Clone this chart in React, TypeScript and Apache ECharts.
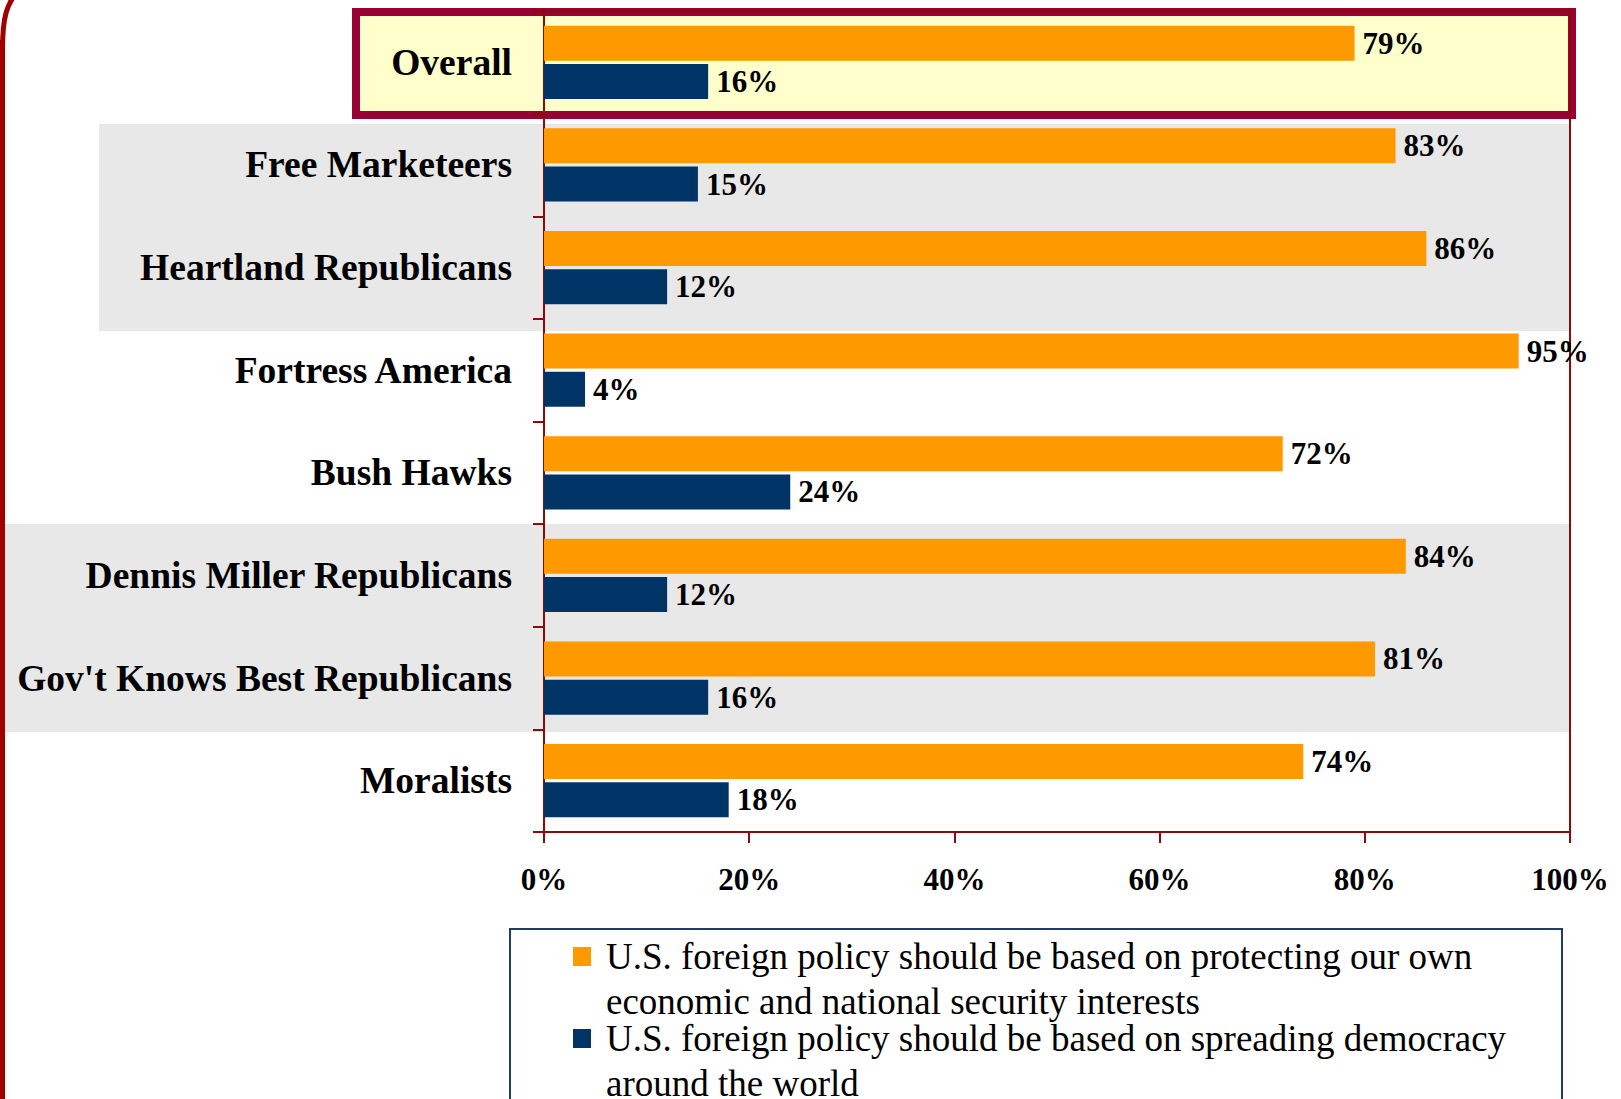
import React, { useEffect, useRef } from "react";
import * as echarts from "echarts";

const categories = [
  "Overall",
  "Free Marketeers",
  "Heartland Republicans",
  "Fortress America",
  "Bush Hawks",
  "Dennis Miller Republicans",
  "Gov't Knows Best Republicans",
  "Moralists",
];
const protectValues = [79, 83, 86, 95, 72, 84, 81, 74];
const democracyValues = [16, 15, 12, 4, 24, 12, 16, 18];
const seriesNames = [
  "U.S. foreign policy should be based on protecting our own economic and national security interests",
  "U.S. foreign policy should be based on spreading democracy around the world",
];
const legendLines: Record<string, string[]> = {
  [seriesNames[0]]: ["U.S. foreign policy should be based on protecting our own", "economic and national security interests"],
  [seriesNames[1]]: ["U.S. foreign policy should be based on spreading democracy", "around the world"],
};
const axisMin = 0;
const axisMax = 100;
const axisStep = 20;

const SERIF = "'Liberation Serif', 'Times New Roman', serif";
const AXIS_RED = "#8E0A0A";

export default function App() {
  const ref = useRef<HTMLDivElement>(null);
  useEffect(() => {
    document.body.style.margin = "0";
    if (!ref.current) return;
    const chart = echarts.init(ref.current, undefined, { renderer: "svg" });
    const labelStyle = {
      show: true,
      position: "right" as const,
      distance: 8,
      formatter: "{c}%",
      fontFamily: SERIF,
      fontSize: 31,
      fontWeight: "bold" as const,
      color: "#000",
    };
    chart.setOption({
      animation: false,
      backgroundColor: "#fff",
      grid: {
        left: 544,
        right: 51,
        top: 11,
        bottom: 267,
        containLabel: false,
        show: true,
        borderColor: AXIS_RED,
        borderWidth: 2,
        backgroundColor: "transparent",
      },
      xAxis: {
        type: "value",
        min: axisMin,
        max: axisMax,
        interval: axisStep,
        axisLine: { show: true, lineStyle: { color: AXIS_RED, width: 2 } },
        axisTick: { show: true, length: 11, lineStyle: { color: AXIS_RED, width: 2 } },
        splitLine: { show: false },
        axisLabel: {
          formatter: "{value}%",
          fontFamily: SERIF,
          fontSize: 31,
          fontWeight: "bold",
          color: "#000",
          margin: 32,
        },
      },
      yAxis: {
        type: "category",
        data: categories,
        inverse: true,
        axisLine: { show: true, lineStyle: { color: AXIS_RED, width: 2 } },
        axisTick: { show: true, length: 11, lineStyle: { color: AXIS_RED, width: 2 } },
        axisLabel: {
          fontFamily: SERIF,
          fontSize: 37.5,
          fontWeight: "bold",
          color: "#000",
          margin: 32,
        },
      },
      legend: {
        orient: "vertical",
        left: 573,
        top: 889,
        height: 500,
        padding: 0,
        itemWidth: 18,
        itemHeight: 19,
        itemGap: -53,
        icon: "rect",
        selectedMode: false,
        formatter: (name: string) => {
          const lines = legendLines[name] || [name];
          return " \n" + lines.join("\n");
        },
        textStyle: {
          fontFamily: SERIF,
          fontSize: 37,
          lineHeight: 45,
          color: "#000",
          padding: [0, 0, 0, 10],
        },
        data: seriesNames,
      },
      graphic: [
        { type: "rect", z: -10, shape: { x: 99, y: 124, width: 1471, height: 207 }, style: { fill: "#E8E8E8" } },
        { type: "rect", z: -10, shape: { x: 4, y: 524, width: 1566, height: 208 }, style: { fill: "#E8E8E8" } },
        {
          type: "rect",
          z: -9,
          shape: { x: 356, y: 12, width: 1216, height: 103 },
          style: { fill: "#FFFFCC", stroke: "#990033", lineWidth: 8 },
        },
        {
          type: "rect",
          z: -9,
          shape: { x: 510, y: 929, width: 1052, height: 220 },
          style: { fill: "none", stroke: "#1F3A6B", lineWidth: 2 },
        },
        {
          type: "line",
          z: -8,
          shape: { x1: 2.5, y1: 40, x2: 2.5, y2: 1099 },
          style: { stroke: "#A00000", lineWidth: 5 },
        },
        {
          type: "bezierCurve",
          z: -8,
          shape: { x1: 2.5, y1: 50, cpx1: 2.5, cpy1: 18, cpx2: 6, cpy2: 4, x2: 20, y2: -12 },
          style: { stroke: "#A00000", lineWidth: 5, fill: "none" },
        },
      ],
      series: [
        {
          type: "bar",
          name: seriesNames[0],
          data: protectValues,
          barWidth: 35,
          barGap: "9%",
          itemStyle: { color: "#FF9900" },
          label: labelStyle,
        },
        {
          type: "bar",
          name: seriesNames[1],
          data: democracyValues,
          barWidth: 35,
          barGap: "9%",
          itemStyle: { color: "#003366" },
          label: labelStyle,
        },
      ],
    });
    return () => chart.dispose();
  }, []);
  return <div ref={ref} style={{ width: 1621, height: 1099 }} />;
}
